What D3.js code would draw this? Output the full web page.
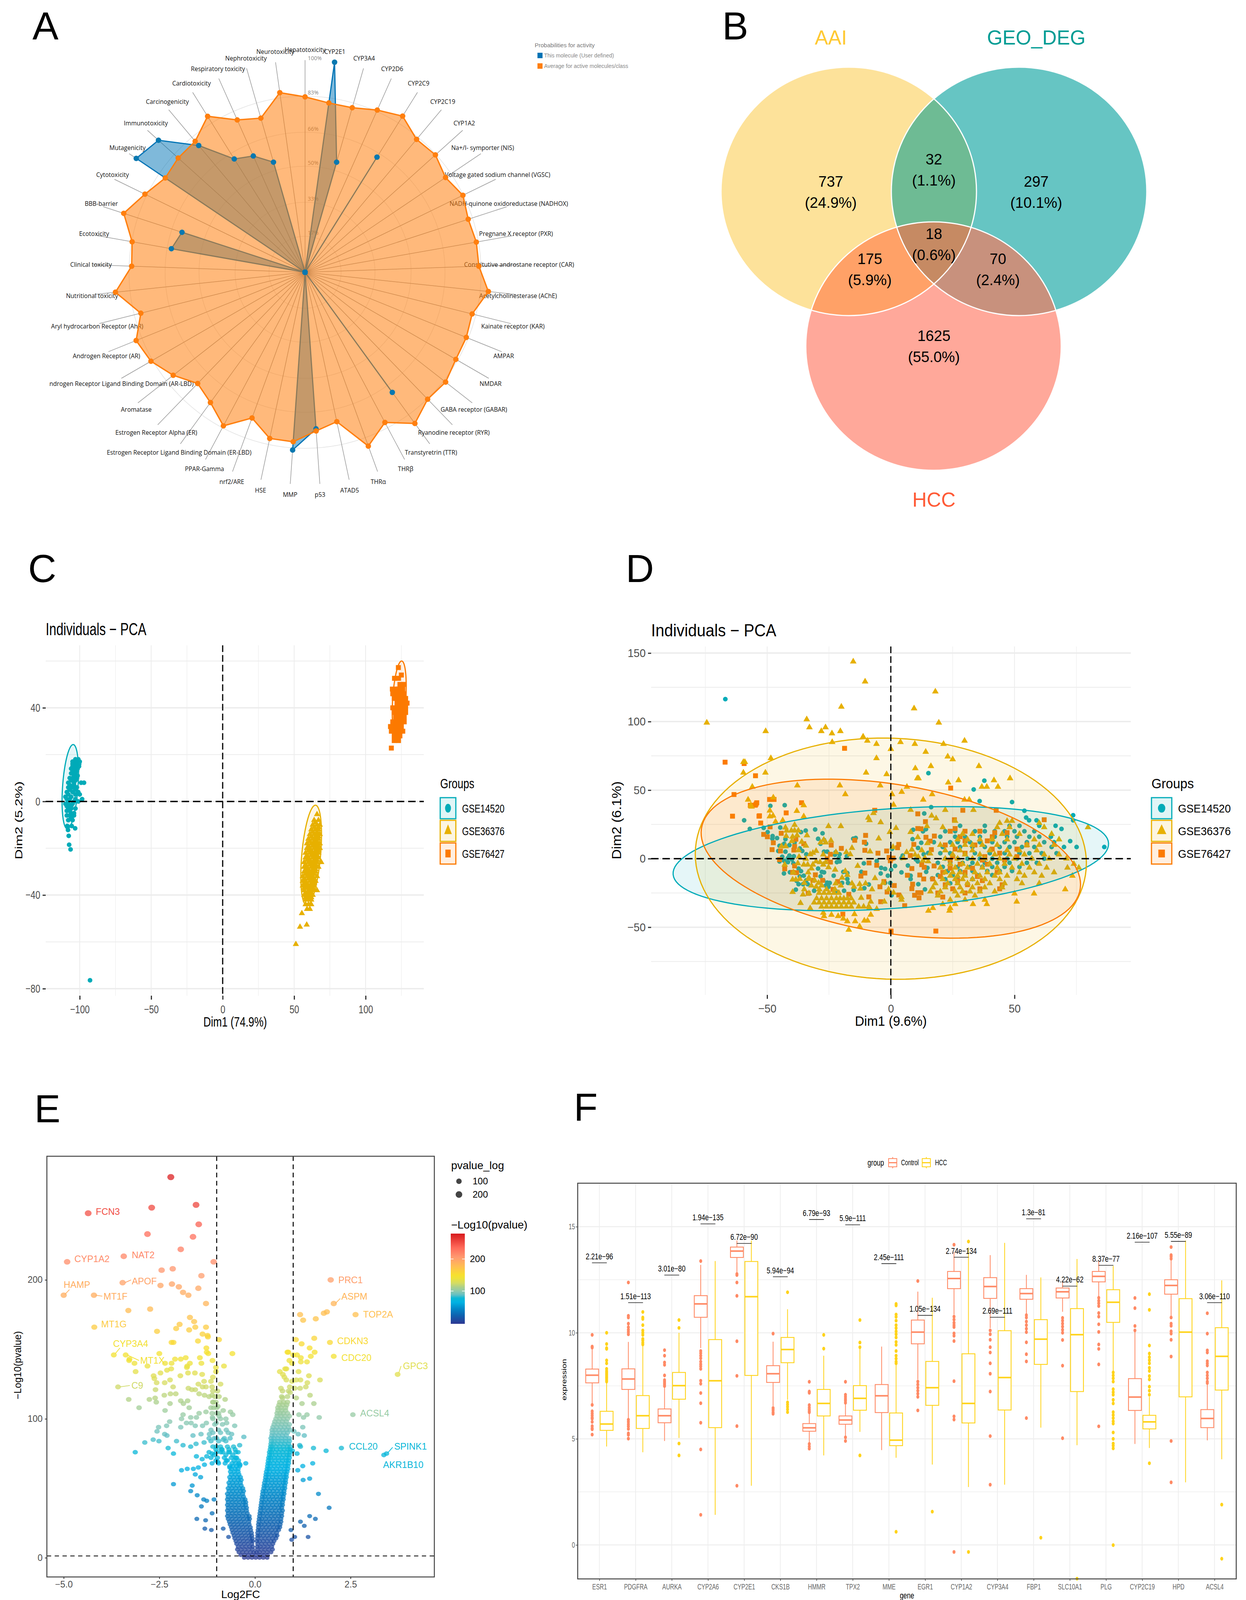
<!DOCTYPE html>
<html>
<head>
<meta charset="utf-8">
<script src="https://d3js.org/d3.v7.min.js"></script>
<style>
  body { margin: 0; background: #fff; }
  text { font-family: "Liberation Sans", Arial, sans-serif; }
  .radar text { font-family: "Open Sans", sans-serif; }
</style>
</head>
<body>
<svg id="fig" width="3190" height="4124"></svg>
<script>
// ---------- A: radar
const radarAxes = ["Hepatotoxicity","CYP2E1","CYP3A4","CYP2D6","CYP2C9","CYP2C19","CYP1A2","Na+/I- symporter (NIS)","Voltage gated sodium channel (VGSC)","NADH-quinone oxidoreductase (NADHOX)","Pregnane X receptor (PXR)","Constitutive androstane receptor (CAR)","Acetylcholinesterase (AChE)","Kainate receptor (KAR)","AMPAR","NMDAR","GABA receptor (GABAR)","Ryanodine receptor (RYR)","Transtyretrin (TTR)","THRβ","THRα","ATAD5","p53","MMP","HSE","nrf2/ARE","PPAR-Gamma","Estrogen Receptor Ligand Binding Domain (ER-LBD)","Estrogen Receptor Alpha (ER)","Aromatase","Androgen Receptor Ligand Binding Domain (AR-LBD)","Androgen Receptor (AR)","Aryl hydrocarbon Receptor (AhR)","Nutritional toxicity","Clinical toxicity","Ecotoxicity","BBB-barrier","Cytotoxicity","Mutagenicity","Immunotoxicity","Carcinogenicity","Cardiotoxicity","Respiratory toxicity","Nephrotoxicity","Neurotoxicity"];
const radarAverage = [82.7,80.6,80.7,83.7,86.8,81.8,82.7,79.9,82.8,80.9,82,82,86.9,81.2,82,82.1,84.1,83.2,88.1,80.2,87.2,72,75,80.1,80.1,73.1,82,75.9,72.9,78.9,83.9,85.9,79.8,89.9,81.8,82.8,89.9,84,79.5,80.5,80.6,86.7,78.6,75.6,85.5];
const radarMolecule = [0,100,54,0,64,0,0,0,0,0,0,0,0,0,0,0,0,0,70,0,0,0,74,84,0,0,0,0,0,0,0,0,0,0,0,64,61,0,96,93,78,63,60,54,0];
const radarRings = [17,33,50,66,83];
const radarTickLabels = ["17%","33%","50%","66%","83%","100%"];
const radarLegend = ["This molecule (User defined)","Average for active molecules/class"];

// ---------- B: venn
const vennCounts = ["737","32","297","18","175","70","1625"];
const vennShares = ["(24.9%)","(1.1%)","(10.1%)","(0.6%)","(5.9%)","(2.4%)","(55.0%)"];

// ---------- C: PCA, all three sets apart (rows are [Dim2, [Dim1...]])
const groupNames = ["GSE14520","GSE36376","GSE76427"];
const pcaCTeal = [[18,[-103,-101]],[17,[-105,-103,-101,-100]],[16,[-105,-104,-102,-100.4]],[15,[-105,-103,-100.5]],[14,[-106,-104,-101.5]],[13,[-105,-102]],[12,[-106,-103]],[11,[-104,-101.5]],[10,[-107,-105,-102]],[9,[-106,-103]],[8,[-108,-104,-99,-97]],[7,[-107,-104]],[6,[-108,-105,-102]],[5,[-107,-103]],[4,[-109,-105,-101]],[3,[-108,-103,-100]],[2,[-110,-106]],[1,[-109,-107,-103,-98.3]],[0,[-108,-104,-101]],[-1,[-110,-108,-105]],[-2,[-109,-106]],[-3,[-108,-106,-103]],[-4,[-109,-107]],[-5,[-106,-104]],[-6,[-109,-107,-104]],[-7,[-106]],[-8,[-108,-105]],[-10.5,[-108.7,-105.6]],[-11.5,[-103.2]],[-12.2,[-108.2]],[-14.7,[-107.7]],[-18.5,[-107.4]],[-20.5,[-106.4]],[-76.4,[-92.8]]];
const pcaCYellow = [[-5.5,[66]],[-8,[64,67]],[-9,[65]],[-10,[63,66,68]],[-11,[64,67]],[-12,[62,65,67]],[-13,[63,66]],[-14,[61,64,66,68]],[-15,[62,65,67]],[-16,[60,63,65,67]],[-17,[61,64,66]],[-18,[59,62,64,66,68]],[-19,[60,63,65,67]],[-20,[59,61,64,66,68]],[-21,[60,62,65,67]],[-22,[58,61,63,65,67]],[-23,[59,62,64,66]],[-24,[58,60,63,65,67]],[-25,[59,61,64,66]],[-26,[57,60,62,64,66,69]],[-27,[58,61,63,65]],[-28,[57,59,62,64,66,67]],[-29,[58,60,63,65]],[-30,[57,59,61,63,65]],[-31,[58,60,62,64]],[-32,[56,59,61,63,66]],[-33,[57,60,62,64]],[-34,[56,58,61,63,65]],[-35,[57,59,62,64]],[-36,[56,58,60,62,64]],[-37,[57,59,61,63]],[-38,[57,60,62,64,66]],[-39,[58,60,62]],[-40,[57,59,61,63]],[-41,[58,60,62]],[-42,[58,60,62]],[-44,[58,60,62]],[-46,[59,61]],[-47.8,[55.4]],[-52.7,[58.8]],[-53.6,[54.1]],[-61,[51.2]]];
const pcaCOrange = [[57.2,[122.9]],[54,[125]],[52.6,[120.2,123]],[50,[124,127]],[48,[118.7,121,123,126]],[46,[119,122,125,127]],[44,[120,123,126,128]],[42,[122,124,127,129]],[40,[119,122,125,128]],[38,[120,123,126,128]],[36,[121,124,127]],[34,[119,122,125,127]],[32,[117.4,120,123,125]],[30,[118,121,124,126]],[28,[120,122,124]],[26,[120,123]],[22.8,[118]]];
const pcaCEllipses = [[-106.6,6.3,5.4,18,2],[61.9,-23,6.6,21.4,3],[123.5,43.8,4.6,16.2,1.7]];

// ---------- D: PCA after correction, outer points as rows, the crowded middle as [Dim1, Dim2]
const pcaDTeal = [[116.4,[-66.9]],[62.4,[15.2]],[56.9,[37.8]],[50.5,[33.5]],[42,[35.9]],[41.3,[49]],[39,[-42.9]],[38.5,[-48.7]],[37.6,[16.3]],[35,[54]],[33,[13.5]],[31.7,[73.7]],[30,[54.7]],[28,[-59.3,55.9,58.9,73.7]],[24,[28,38,48,52,60,66.6]],[21.7,[-57,69]],[20,[22,26,30,34,38,42,46,50,54,58]],[16,[20,26,30,36,42,47,51,56,60,64.7]],[12.8,[72.5]],[12,[24,27,32,36,41,46,50,55,62,66]],[8.5,[21,28,33,38,44,48,53,58,65,70,75.1,86.3]],[4,[20,24,30,34,40,46,52,56,61,67]],[0,[22,27,31,36,41,47,51,57,62]],[-3,[19,24,29,33,38,43,48,55,59]],[-6,[21,27,32,37,41,46,52]],[-9,[23,28,33,39,44,49]],[-12,[19,25,30,35,41]],[-15,[22,27,33]],[-18,[24]]];
const pcaDTealMid = [[-51.4,22.5],[-44.7,22.7],[-49.8,19.4],[-47.8,16.5],[-46,15],[-47.9,14.6],[-42.6,14.2],[-34.4,20.5],[-36.3,19.4],[-30.6,21.3],[-27.6,18.5],[-29.4,14.5],[-28.4,10.9],[-27,13.7],[-15.2,14.6],[-14.2,15.1],[-10,10.9],[-45,9.4],[-43.1,10.9],[-41,9.9],[-45.5,5.6],[-42.6,5.1],[-38.9,11.8],[-36.8,7.5],[-35.8,5.6],[-34.2,3.2],[-27,5.1],[-25.7,5.1],[-22.3,4.7],[-20.7,3.2],[-17.8,1.8],[-21,0.4],[-20.7,-2],[-21.8,-2.5],[-22.6,2.8],[-43.9,1.4],[-41,2.3],[-39.2,1.8],[-41.6,0.4],[-40,-0.6],[-45,-2],[-43.1,-1.5],[-41.6,-2.5],[-39.4,-3.4],[-37.3,-7.2],[-36.3,-9.1],[-40.8,-9.9],[-43.2,-10.8],[-35.2,-12.4],[-36.8,-12.9],[-38.1,-16.2],[-37.3,-18.6],[-35.5,-18.6],[-34.2,-15.8],[-33.6,-18.6],[-29.4,-7.2],[-27.9,-9.6],[-27,-10],[-28.4,-12.9],[-27.3,-15.8],[-25.7,-17.5],[-24.7,-17.7],[-23.1,-12.4],[-25.2,-20.5],[-26.3,-19.6],[-22.1,-23.8],[-18.9,-23.4],[-19.2,-9.6],[-17.6,-10.5],[-17.6,-14.8],[-17.3,-17.7],[-19.7,-17.7],[-38.4,-22.6],[-31,-23.4],[-15,-22.9],[-10.7,-21.5],[-8.9,-18.8],[-11.9,-9.6],[-10.9,-3.4],[-5.7,-1.7],[-3.9,-6.7],[-2.3,-7.4],[-4.1,-10.8],[-1.2,-12.4],[0.1,-8.1],[1.7,-5.3],[4.3,-10],[6.9,-5],[-2.3,-17.7],[-0.2,-17.7],[0.3,-26.7],[0.5,7.2],[4.8,2.3],[4.3,0.4],[10.1,-0.5],[10.9,-2],[13.3,3.2],[15.1,4.2],[14.8,-6.7],[14.3,-9.6],[8,-12.4],[8,-14.8],[11.1,-18.6],[13.8,-22.4],[16.7,-14.3],[9,21.1],[13,19.9],[14.2,21.5],[8.8,14.2],[12.3,11.6],[11,7.8],[17.4,12]];
const pcaDYellow = [[143.8,[-15.2]],[129.2,[-10.4]],[121.9,[18]],[110.8,[-20]],[109.6,[9.4]],[101.6,[-34]],[99.2,[-74.4,19.4]],[95.8,[-32.9,-26.4]],[93,[-50.6,-28.1,-20.4]],[91.4,[-23.8]],[89,[-11.2]],[86,[-9.5,29.8]],[85,[-23.7,3.9]],[83.7,[-5.8,9.7,21.3]],[80,[0]],[77.9,[14.1]],[74.5,[23]],[73.3,[-48.5,-5.8]],[72.5,[25]],[70.5,[-59.6,-59]],[67.5,[16.2,35.6]],[65.9,[9.9]],[62.7,[-59.6,-50.7,-10]],[61.6,[-1.7]],[58.6,[10.7,11.2,48.2]],[57.2,[27.4,41.7]],[55.5,[23.2]],[53.4,[-37.8,-20.6,-4.3]],[52.4,[-56,36.8,38.8,43.3,6.5]],[48.7,[4.4]],[47,[0.5,16.7,-18.4]],[44.6,[-47.5]],[43,[-57.7,13.1,29.8,31.7]],[39,[-56.6]],[35.5,[22,33.4]],[27.5,[26,47,49]],[26,[44,60]],[22.9,[79.7,21,43,48,62]],[18,[29,33,45,52,65]],[14,[27,31,36,41,47,58,68]],[10,[20,25,30,33,37,43,55,60,66]],[6,[22,28,33,40,47,52,59]],[3,[25,30,36,42,48,54,62,68]],[0,[22,27,33,38,44,50,57,64,71]],[-3.8,[24,29,35,40,46,53,60,74]],[-6.6,[20,26,31,37,43,49,56,63,71.4,76]],[-10,[22,25,28,34,39,44,52,58,66]],[-12.5,[24,27,30,36,42,47,54,61,73.4]],[-15,[21,26,29,33,38,44,51]],[-18,[18,23,27,31,35,40,46,53,60]],[-21,[17,22,28,33,38,45]],[-22.4,[70.5]],[-24,[16,20,26,29,32,36,42]],[-25.5,[50,57.9]],[-27,[19,27,34]],[-30,[24,30,38]],[-31.4,[50.9]],[-33.2,[21,26,33.2,38.8]],[-36,[17,24]],[-38,[15.2,23.7]],[-29,[-30,-28,-26,-24,-22,-20.5,-19,-17.5,-16]],[-32,[-31,-29,-27,-25,-23,-21,-19,-17,-15]],[-35,[-28,-26,-24,-22,-20,-18,-16,-13,-11,-9]],[-25,[-29,-27,-25,-23,-21]]];
const pcaDYellowMid = [[-56.3,37.9],[-48.9,35],[-38,34.8],[-35.2,38.9],[-35.2,30.8],[-48.9,30.8],[-47.6,31.3],[-43.7,27.9],[-46.6,27],[-38.9,24.6],[-42.6,22.7],[-42.1,20.4],[-40.2,20.5],[-38.9,20.5],[-37.4,20.5],[-33.9,17],[-37.9,17],[-39.7,16],[-42.3,16.5],[-40,12.8],[-36,12.3],[-34.3,9.4],[-44.2,9],[-42.5,9],[-37.3,6.1],[-25.2,23.7],[-20.2,23.7],[-27.1,13.7],[-28.4,11.8],[-26.3,11.8],[-24.2,13.2],[-15.7,7.8],[-18,4.7],[-16.4,3.2],[-22.2,4.7],[-27.3,3],[-30.2,5.6],[-31.5,4.2],[-32.6,3.2],[-8.4,5.2],[-4.9,14.7],[-13.4,-5.3],[-4.1,26.5],[-9.1,29.9],[-8.6,28],[-7,33.2],[-0.4,19.4],[2.1,22.3],[0.9,8.5],[1.1,39.3],[8,35.6],[8,19.4],[10.9,15.6],[14.6,23.7],[16.5,31.3],[18.3,29.4],[14.8,11.3],[8.5,6.6],[12.5,6.1],[6.4,4.7],[9.8,2.8],[11.1,1.4],[15.9,3.7],[13.8,0.4],[13,-1.5],[15.1,-2],[5.1,0.4],[-42.9,-4.4],[-37.6,-3.4],[-34.4,-0.1],[-37.1,1.3],[-35.2,-4.4],[-33.6,-4.4],[-30.2,-2],[-28.6,-2.5],[-26.3,-2.5],[-31.5,-4.4],[-32.1,-7.2],[-27.3,-4.4],[-25.2,-6.3],[-22.5,-8.1],[-18.4,-9.1],[-17.6,-11.9],[-19.7,-13.9],[-33.4,-10],[-33.1,-13.9],[-39.4,-10],[-39.7,-15.3],[-38.4,-15.3],[-36.8,-14.8],[-35,-17.7],[-33.4,-14.8],[-30.8,-15.8],[-32.1,-19.6],[-29.2,-17.7],[-27.9,-19.6],[-30.2,-20.5],[-28.9,-22.4],[-26,-22.4],[-35,-22.4],[-33.1,-25.3],[-39.7,-24.3],[-35.5,-26.2],[-36.5,-32.4],[-32.6,-36.2],[-27.3,-39.5],[-22.3,-18.1],[-20.2,-19.6],[-22.6,-22.4],[-15.7,-18.1],[-14.9,-20.5],[-12.6,-18.6],[-12.3,-21.9],[-10.2,-18.1],[-7.6,-22.4],[-6.4,-14.3],[-3.1,-17.7],[-0.9,-22.4],[1.1,-24.8],[-12,-28.6],[-8.1,-31.4],[-2.6,-31.4],[4.3,-28.1],[4.3,-30],[-5.7,-36.7],[-8.6,-35.7],[-21.3,-41.9],[-19.2,-43.8],[-17.6,-45.7],[-14.4,-45.7],[-10.7,-45.2],[-9.4,-45.2],[-8.1,-40.9],[-14.7,-40.5],[-12.6,-49.5],[-17,-51.9],[-24,-41],[-27,-42]];
const pcaDOrange = [[80.5,[-18.7]],[70.4,[-67]],[69.4,[-59.3]],[60.5,[-54.7]],[51.5,[24.2]],[46.8,[-63.4]],[43.2,[-49,-47.2]],[40.8,[-36.1,-54.2]],[39,[-54.8,-56.7]],[35.3,[42.6,29.1,-6.5]],[31,[-64,-53.3]],[28.4,[25.7,62]],[22,[26]],[20,[24,30,36]],[19,[42,47]],[16,[28,41]],[13,[30,39]],[10,[22,34,55]],[7,[26,41,51]],[4,[30,44]],[1.5,[25,38,51]],[-1,[24,37,46]],[-4,[28,39]],[-7,[24,33]],[-10,[21,30,43]],[-13,[20,35]],[-16,[27,37]],[-19,[22,31,45]],[-22,[25,36,44]],[-25,[19,30]],[-28,[21]],[-52.8,[18.2]]];
const pcaDOrangeMid = [[-56.8,38.9],[-54.5,39.8],[-53.1,31.3],[-42.3,33.4],[-52.6,26],[-48.8,23.2],[-44.3,18.5],[-51.4,17.7],[-49.9,16],[-47.5,11.6],[-48,6.6],[-44.6,5.6],[-38.9,8.9],[-39.2,6.3],[-35.2,10.9],[-38.4,14.2],[-45,-0.7],[-42.9,-7.4],[-38.9,-5.3],[-39.7,-10],[-38.1,-10.2],[-30.5,-11.8],[-31.5,-15.8],[-27.6,-15.8],[-33.4,-25.3],[-24.1,9.9],[-20,7.5],[-24.4,3.2],[-24.4,-2.5],[-25.7,-0.1],[-14.6,13.4],[-10.2,17],[-10.7,12],[-10.5,6.1],[-5.2,4],[-1.7,5.6],[2.7,8],[3.2,10.4],[0.1,-0.1],[-0.7,0.9],[0.9,0.4],[-0.2,-1.5],[-8.8,-3.1],[-5.7,-4.8],[-10.5,-10.5],[-12.1,-12.7],[-21.5,-16.7],[-23.4,-22.4],[-17,-26],[-8.9,-27.9],[-4.1,-31.4],[-2.8,-16.7],[-4.4,-20.5],[1.4,-19.6],[-1.5,-24.3],[3.2,-26.5],[5.6,-34.3],[-19.4,-40.5],[0.1,-52.8],[10.9,32.7],[14,27],[10.9,22],[12.2,21.8],[14.2,15.6],[17.6,16.5],[9.3,10.4],[7.9,2.3],[15.9,12.8],[16.4,6.6],[12.5,-4.4],[13.5,-6.3],[8.5,-7.2],[6.7,-12.1],[11.7,-11.9],[8.8,-18.6],[8.5,-21.9],[10.9,-24.8],[12.2,-24.8],[11.4,-28.6],[9.6,-26.7],[17.5,-5.3],[16.9,-14.8],[13.3,-14.8]];
const pcaDEllipses = [[0,0,84.4,38,25],[0,0,79,88,-3],[0,0,72.5,58,-25]];

// ---------- E: volcano
const volcanoScatter = [[-2.2,274],[-2.7,252],[-1.54,254],[-4.36,248],[-1.47,240],[-2.81,233],[-1.62,231],[-1.94,222],[-3.43,217],[-4.91,213],[-1.08,213],[-2.15,208],[-2.44,207],[-1.4,203],[-3.46,198],[-2.47,196],[-2.17,197],[-1.99,195],[-1.48,194],[-1.88,191],[-1.74,189],[-4.21,189],[-5,189],[-1.28,183],[-3.31,178],[-2.74,179],[-1.7,173],[-1.59,170],[-1.97,168],[-1.56,166],[-1.28,166],[-2.06,165],[-1.72,164],[-4.2,166],[-2.56,163],[-1.37,161],[-1.24,160],[-1.23,159],[-1.49,156],[-2.18,155],[-2.13,155],[-0.94,157],[-0.59,147],[-1.27,151],[-1.26,148],[-1.22,147],[-2.5,147],[-3.38,146],[-3.69,146],[-3.15,140],[-3.29,142],[-3.28,143],[-2.81,138],[-2.35,140],[-2.18,140],[-2.09,143],[-1.94,143],[-1.81,144],[-1.7,140],[-1.44,144],[-1.77,138],[-1.78,137],[-1.4,140],[-1.11,142],[-1.02,137],[-0.81,138],[-1.02,134],[-2.19,136],[-2.3,135],[-2.47,133],[-2.65,131],[-3.12,134],[-1.75,133],[-1.57,133],[-1.38,132],[-1.1,130],[-1.95,131],[-2.22,128],[-2.57,126],[-2.63,129],[-2.36,126],[-1.15,127],[-1.33,127],[-1.48,125],[-0.9,125],[-3.58,123],[-2.14,123],[-1.74,122],[-1.65,121],[-1.56,121],[-1.37,123],[-1.28,123],[-1.12,123],[-1.46,118],[-1.32,117],[-1.12,117],[-2.6,121],[-2.21,118],[-2.07,118],[-2.37,117],[-2.61,115],[-2.76,114],[-3.3,114],[-1.94,113],[-1.76,113],[-1.09,112],[-0.94,116],[-0.78,114],[-3.03,108],[-2.58,112],[-2.35,106],[-2.22,111],[-1.87,111],[-1.72,108],[-1.46,104],[-1.28,105],[-1.08,108],[-0.97,109],[-0.83,106],[-0.64,105],[-0.58,103],[-1.88,103],[-1.92,100],[-1.68,101],[-1.53,101],[-1.11,101],[-0.94,102],[-0.76,100],[-1.79,97],[-1.67,97],[-1.56,95],[-1.37,95],[-1.01,97],[-0.74,97],[-0.53,95],[-2.52,94],[-2.31,95],[-2.23,98],[-2.56,91],[-1.94,94],[-1.27,97],[-2.36,89],[-2.3,88],[-2.66,85],[-2.51,84],[-2.88,83],[-2.05,84],[-1.62,88],[-1.41,89],[-1.19,89],[-1.06,86],[-0.83,85],[-0.61,89],[-0.29,87],[-1.88,81],[-3.13,76],[-2.27,79],[-2.13,75],[-1.68,80],[-1.54,82],[-1.33,83],[-1.01,80],[-0.88,78],[-0.4,81],[-0.89,76],[-1.53,73],[-1.26,73],[-1.12,75],[-0.69,76],[-0.44,76],[-0.51,72],[-0.24,68],[-1.38,71],[-1.32,67],[-0.97,69],[-0.75,70],[-0.66,65],[-1.48,65],[-1.61,64],[-1.77,64],[-1.92,63],[-0.39,67],[-2.13,53],[-1.56,60],[-1.42,58],[-1.64,52],[-1.68,48],[-1.51,45],[-1.34,42],[-1.26,41],[-1.07,42],[-1.4,37],[-1.52,28],[-1.31,21],[-1.14,20],[-1.29,27],[-1.12,32],[-0.83,21],[-0.69,15],[1.98,200],[2.06,183],[1.18,175],[1.26,171],[1.59,172],[1.8,176],[1.88,177],[2.63,175],[1.07,157],[1.22,154],[1.55,158],[1.96,155],[1.43,151],[1.56,148],[0.87,148],[0.85,148],[1,146],[1.1,146],[1.2,144],[1.46,145],[2.06,145],[1.36,141],[1.2,141],[0.9,142],[0.97,140],[0.82,136],[0.79,136],[1.14,134],[0.65,134],[0.73,132],[0.77,130],[1.41,131],[1.19,128],[1.37,126],[1.7,128],[0.82,128],[0.97,127],[1.08,128],[3.73,132],[0.68,122],[0.91,123],[1.04,122],[1.18,122],[1.33,123],[0.92,119],[1.08,115],[1.44,117],[0.72,115],[1.54,111],[1.23,111],[2.56,103],[1.15,103],[1.36,103],[1.68,101],[1.27,101],[1.25,94],[1.29,88],[1.13,89],[1.02,91],[1.53,79],[1.17,81],[1.86,77],[2.26,79],[3.44,75],[3.37,74],[1.19,80],[1.1,75],[0.98,77],[1.51,68],[1.25,66],[1.12,63],[1.43,57],[1.26,56],[1.66,46],[1.94,36],[1.43,30],[1.58,28],[1.19,26],[1.29,23],[1.39,15],[1.04,15],[0.94,20],[0.96,13]];
// the solid V, as rows of [-log10 p, [log2FC...]]
const volcanoRows = [[120,[-1.1,-0.98,0.72,0.88]],[116,[-1.2,-1.05,0.7,0.85]],[112,[-1.1,-1.02,0.65,0.75,0.85]],[110,[0.63,0.73,0.83]],[108,[-1.15,-1,0.6,0.68,0.8]],[106,[0.6,0.7,0.8]],[104,[-1.12,-1,-0.95,0.58,0.66,0.74,0.85]],[102,[0.58,0.68,0.78,0.9]],[100,[-1.1,-0.9,0.55,0.65,0.75,0.85]],[98,[0.52,0.62,0.72,0.82]],[96,[-1.05,-0.85,0.5,0.6,0.7,0.8,0.9]],[94,[0.47,0.57,0.67,0.77,0.87]],[92,[-1.15,-0.95,-0.75,0.45,0.53,0.63,0.73,0.83,0.92]],[90,[-1.1,-0.9,-0.7,0.45,0.55,0.65,0.75,0.85]],[88,[0.44,0.52,0.62,0.72,0.82]],[86,[-1.2,-1,-0.8,-0.65,0.42,0.5,0.6,0.7,0.8,0.9]],[84,[-1.15,-0.95,-0.76,0.43,0.5,0.6,0.7,0.8,0.9]],[82,[0.42,0.48,0.58,0.68,0.78,0.88]],[80,[-1.1,-0.9,-0.72,-0.56,0.41,0.45,0.55,0.65,0.75,0.85,0.92]],[78,[-1.02,-0.86,-0.68,-0.52,0.4,0.46,0.56,0.66,0.76,0.86,0.92]],[76,[-1.2,-1,-0.84,-0.66,-0.5,0.38,0.43,0.53,0.63,0.73,0.83,0.92]],[74,[-1.07,-0.76,-0.58,0.38,0.44,0.54,0.64,0.74,0.84,0.9]],[72,[-1.15,-0.98,-0.8,-0.62,-0.48,0.36,0.41,0.51,0.61,0.71,0.81,0.9]],[70,[-1.02,-0.72,-0.55,-0.43,0.35,0.42,0.52,0.62,0.72,0.82,0.88]],[68,[-1.12,-0.95,-0.78,-0.6,-0.5,-0.42,0.34,0.39,0.49,0.59,0.69,0.79,0.88]],[66,[-0.66,-0.58,-0.48,-0.4,0.33,0.4,0.5,0.6,0.7,0.8,0.86]],[64,[-0.62,-0.52,-0.44,0.32,0.37,0.47,0.57,0.67,0.77,0.86]],[62,[-0.64,-0.54,-0.44,0.3,0.38,0.48,0.58,0.68,0.78,0.84]],[60,[-0.62,-0.52,-0.42,0.29,0.35,0.45,0.55,0.65,0.75,0.82]],[58,[-0.66,-0.56,-0.46,-0.38,0.28,0.36,0.46,0.56,0.66,0.76,0.82]],[56,[-0.64,-0.54,-0.44,-0.36,0.27,0.33,0.43,0.53,0.63,0.73,0.8]],[54,[-0.68,-0.58,-0.48,-0.38,0.25,0.34,0.44,0.54,0.64,0.74,0.8]],[52,[-0.66,-0.56,-0.46,-0.36,0.24,0.3,0.4,0.5,0.6,0.7,0.78]],[50,[-0.7,-0.6,-0.5,-0.4,-0.32,0.23,0.32,0.42,0.52,0.62,0.72,0.78]],[48,[-0.68,-0.58,-0.48,-0.38,-0.3,0.21,0.28,0.38,0.48,0.58,0.68,0.76]],[46,[-0.72,-0.62,-0.52,-0.42,-0.32,0.2,0.3,0.4,0.5,0.6,0.7,0.76]],[44,[-0.7,-0.6,-0.5,-0.4,-0.3,0.19,0.26,0.36,0.46,0.56,0.66,0.74]],[42,[-0.72,-0.62,-0.52,-0.42,-0.32,-0.26,0.18,0.28,0.38,0.48,0.58,0.68,0.74]],[40,[-0.7,-0.6,-0.5,-0.4,-0.3,-0.24,0.17,0.24,0.34,0.44,0.54,0.64,0.72]],[38,[-0.72,-0.62,-0.52,-0.42,-0.32,-0.24,0.16,0.26,0.36,0.46,0.56,0.66,0.72]],[36,[-0.7,-0.6,-0.5,-0.4,-0.3,-0.22,0.15,0.22,0.32,0.42,0.52,0.62,0.7]],[34,[-0.72,-0.62,-0.52,-0.42,-0.32,-0.22,0.14,0.24,0.34,0.44,0.54,0.64,0.72]],[32,[-0.7,-0.6,-0.5,-0.4,-0.3,-0.2,0.13,0.2,0.3,0.4,0.5,0.6,0.7]],[30,[-0.72,-0.62,-0.52,-0.42,-0.32,-0.22,-0.15,0.12,0.22,0.32,0.42,0.52,0.62,0.7]],[28,[-0.7,-0.6,-0.5,-0.4,-0.3,-0.2,-0.14,0.11,0.18,0.28,0.38,0.48,0.58,0.68]],[26,[-0.67,-0.57,-0.47,-0.37,-0.27,-0.16,0.1,0.2,0.3,0.4,0.5,0.6,0.68]],[24,[-0.65,-0.55,-0.45,-0.35,-0.25,-0.15,0.09,0.16,0.26,0.36,0.46,0.56,0.66]],[22,[-0.62,-0.52,-0.42,-0.32,-0.22,-0.12,0.09,0.19,0.29,0.39,0.49,0.59,0.65]],[20,[-0.6,-0.5,-0.4,-0.3,-0.2,-0.11,0.08,0.14,0.24,0.34,0.44,0.54,0.62]],[18,[-0.58,-0.48,-0.38,-0.28,-0.18,-0.09,0.07,0.17,0.27,0.37,0.47,0.57]],[16,[-0.55,-0.45,-0.35,-0.25,-0.15,-0.08,0.07,0.12,0.22,0.32,0.42,0.52,0.58]],[14,[-0.53,-0.43,-0.33,-0.23,-0.13,-0.07,0.06,0.16,0.26,0.36,0.46,0.55]],[12,[-0.5,-0.4,-0.3,-0.2,-0.1,-0.06,0.05,0.12,0.22,0.32,0.42,0.5]],[10,[-0.48,-0.38,-0.28,-0.18,-0.08,0.07,0.17,0.27,0.37,0.47]],[8,[-0.44,-0.34,-0.24,-0.14,-0.06,0.06,0.14,0.24,0.34,0.44]],[6,[-0.46,-0.36,-0.26,-0.16,-0.06,0.06,0.16,0.26,0.36,0.46]],[4,[-0.42,-0.32,-0.22,-0.12,-0.03,0.04,0.12,0.22,0.32,0.42]],[2,[-0.37,-0.27,-0.17,-0.07,0.03,0.13,0.23,0.33]],[0,[-0.28,-0.18,-0.08,0.02,0.12,0.22,0.32]]];
const volcanoLabels = [["FCN3",-4.16,249,250],["CYP1A2",-4.72,215,213],["NAT2",-3.22,218,217],["HAMP",-5,196.5,189],["APOF",-3.22,199,198],["MT1F",-3.96,188,189],["MT1G",-4.02,168,166],["CYP3A4",-3.71,154,146],["MT1X",-3,142,146],["C9",-3.23,124,123],["PRC1",2.18,200,200],["ASPM",2.26,188,183],["TOP2A",2.83,175,175],["CDKN3",2.15,156,155],["CDC20",2.26,144,145],["GPC3",3.87,138,132],["ACSL4",2.75,104,103],["CCL20",2.46,80,79],["SPINK1",3.64,80,75],["AKR1B10",3.35,67,74]];
const volcanoLeaders = [[-4.85,193,-4.97,189.5,189],[-3.24,200,-3.4,198,198],[-3.99,188.3,-4.17,189,189],[-3.53,151,-3.65,147,146],[-3.03,142,-3.34,146,146],[-3.27,124,-3.53,123,123],[2.23,186.6,2.1,183,183],[3.82,138,3.76,133,132],[3.6,79.5,3.47,75.5,75]];

// ---------- F: boxplots, [lower whisker, q1, median, q3, upper whisker]
const genes = ["ESR1","PDGFRA","AURKA","CYP2A6","CYP2E1","CKS1B","HMMR","TPX2","MME","EGR1","CYP1A2","CYP3A4","FBP1","SLC10A1","PLG","CYP2C19","HPD","ACSL4"];
const boxesControl = [[6.6,7.64,8,8.29,9.28],[5.9,7.33,7.82,8.3,9.57],[4.9,5.76,6.09,6.41,7.41],[9.28,10.73,11.36,11.75,13.2],[12.83,13.55,13.85,14.04,14.35],[6.54,7.66,8.07,8.45,9.58],[4.83,5.36,5.52,5.72,6.62],[5.14,5.69,5.89,6.08,6.62],[4.47,6.24,7.03,7.56,9.35],[7.8,9.48,10.03,10.6,11.94],[10.86,12.08,12.56,12.89,13.81],[10.22,11.62,12.18,12.6,13.66],[10.9,11.58,11.85,12.08,12.73],[10.99,11.64,11.93,12.11,12.37],[11.72,12.4,12.66,12.89,13.38],[4.76,6.34,6.97,7.84,10.07],[10.79,11.82,12.23,12.5,13.45],[4.93,5.53,5.96,6.38,7.56]];
const boxesHcc = [[4.64,5.4,5.7,6.3,7.63],[4.37,5.49,6.09,7.04,9.43],[5.04,6.87,7.51,8.13,10],[1.42,5.53,7.74,9.68,13.38],[2.79,7.99,11.7,13.36,14.35],[6.84,8.59,9.21,9.78,11.11],[4.22,6.08,6.67,7.33,8.92],[5.33,6.35,6.91,7.51,9.28],[4.11,4.68,4.94,6.22,8.49],[3.79,6.58,7.41,8.65,11.65],[2.73,5.75,6.67,9.01,14.02],[2.84,6.36,7.89,10.1,14.24],[5.53,8.51,9.7,10.62,12.61],[4.7,7.23,9.91,11.14,13.48],[8.2,10.49,11.44,12.03,13.15],[4.57,5.47,5.8,6.11,6.98],[2.95,6.98,10.03,11.61,14.35],[4.04,7.3,8.89,10.24,12.47]];
const outliersControl = [[9.9,9.35,9.3,6.6,6.3,6.2,6.1,6,5.95,5.8,5.6,5.5,5.45,5.2],[12.37,10.8,10.72,10.43,10.26,10.14,10.04,9.93,5.9,5.8,5.69,5.59,5.47,5.26,5.19,5.01],[9.18,8.92,8.6,8.49,7.99,7.77,7.7,7.63,7.56,7.49],[13.38,9.14,9.04,8.92,8.8,8.64,8.52,8.42,8.3,7.74,7.6,7.16,6.68,5.76,4.5,1.42],[12.77,12.72,12.37,11.74,9.6,7.97,5.6,2.79],[9.96,6.45,6.36,6.25,6.18],[7.69,7.23,7.17,6.59,6.48,6.39,6.31,6.25,4.76,4.64,4.54],[7.69,7.08,6.98,6.88,6.8,6.7,5.07,4.9],[],[12.44,7.7,7.56,7.41,7.27,7.13,6.98,6.34],[14.15,10.76,10.62,10.47,10.36,10.27,9.97,9.86,9.61,7.72,6.06,5.91,-0.33],[10.11,9.93,9.67,9.32,9.07,8.56,8.07,7.23,5.13,2.84],[10.83,10.72,10.53,10.36,10.19,10.03,9.55,8.99,8.65,5.98],[10.7,10.57,10.43,10.29,10.14,10,9.66,8.45,5.03],[11.65,11.51,11.39,11.26,10.93,10.76,10.4,10.04,9.45,9.24,8.51,5.59],[11.64,11.16,10.32,10.11],[14.04,13.66,13.59,13.49,10.72,10.43,10.33,10.07,9.96,9.67,8.88,4.9,2.95],[10.92,9.96,9.17,9.07,8.66,8.56,8.46,8.13,7.99,7.85,7.7,7.63]];
const outliersHcc = [[10,9.47,9.28,9.24,8.7,8.56,8.3,8.2,8.13,8.06,7.99,7.92,7.85,7.77,7.7],[10.98,10.72,10.65,10.36,10.11,10,9.9,9.71,9.64,9.53,9.45],[10.6,10.23,4.78,4.22],[],[],[11.91,6.72,6.62,6.51,6.39,6.26],[9.9,9.25],[10.6,9.54,9.32,4.22],[11.36,11.29,10.86,10.75,10.57,10.36,10.22,10.07,9.93,9.78,9.57,9.43,9.14,8.92,8.78,8.64,8.56,0.62],[1.57],[14.3,-0.33],[],[0.34],[-1.59],[8.13,7.99,7.85,7.7,7.34,7.2,7.08,6.84,6.67,6.26,6.12,5.98,5.83,5.72,5.3,5,4.78,4.68,4.55,-0.01],[11.82,11.08,9.4,9.02,8.85,8.71,8.56,8.35,8.2,7.96,7.8,7.46,7.27,7.08,3.85],[],[1.9,-0.65]];
const pLabels = ["2.21e−96","1.51e−113","3.01e−80","1.94e−135","6.72e−90","5.94e−94","6.79e−93","5.9e−111","2.45e−111","1.05e−134","2.74e−134","2.69e−111","1.3e−81","4.22e−62","8.37e−77","2.16e−107","5.55e−89","3.06e−110"];
const pBars = [13.3,11.42,12.72,15.13,14.21,12.64,15.34,15.09,13.26,10.82,13.56,10.73,15.37,12.2,13.18,14.27,14.31,11.42];

const svg = d3.select("#fig");
const defs = svg.append("defs");

// text that may be squeezed sideways, the panels of the figure were not resized evenly
function label(g, x, y, str, o = {}) {
  return g.append("text")
    .attr("transform", `translate(${x},${y}) scale(${o.sx || 1},1) rotate(${o.rot || 0})`)
    .attr("text-anchor", o.anchor || "start")
    .attr("font-size", o.size || 20)
    .attr("fill", o.fill || "#000")
    .text(str);
}
const flatten = rows => rows.flatMap(([y, xs]) => xs.map(x => [x, y]));

[["A",83,101],["B",1849,101],["C",72,1490],["D",1602,1490],["E",88,2873],["F",1469,2869]]
  .forEach(d => label(svg, d[1], d[2], d[0], { size: 100 }));

// ---------- A
function drawRadar() {
  const g = svg.append("g").attr("class", "radar").attr("transform", "translate(781,697)");
  const r = d3.scaleLinear().domain([0, 100]).range([0, 543]);
  const angle = d3.scaleLinear().domain([0, radarAxes.length]).range([0, 2 * Math.PI]);
  const radial = d3.lineRadial().angle((d, i) => angle(i)).radius(d => r(d)).curve(d3.curveLinearClosed);

  g.selectAll(".ring").data(radarRings).enter().append("circle")
    .attr("r", d => r(d)).attr("fill", "none").attr("stroke", "#e3e3e3").attr("stroke-width", 1.5);
  g.selectAll(".spoke").data(radarAxes).enter().append("line")
    .attr("x2", (d, i) => d3.pointRadial(angle(i), r(100))[0])
    .attr("y2", (d, i) => d3.pointRadial(angle(i), r(100))[1])
    .attr("stroke", "#999").attr("stroke-width", 1.5);
  [...radarRings, 100].forEach((d, i) => {
    label(g, 7, -r(d) + (d === 100 ? 0 : -4), radarTickLabels[i], { size: 14, fill: "#888" });
  });

  defs.append("clipPath").attr("id", "radarClip").append("rect")
    .attr("x", 126 - 781).attr("y", -700).attr("width", 1500).attr("height", 1400);
  const labelG = g.append("g").attr("clip-path", "url(#radarClip)");
  radarAxes.forEach((name, i) => {
    const [px, py] = d3.pointRadial(angle(i), r(100));
    label(labelG, px * 1.01, py * 1.05 + 6, name, { size: 15.5, anchor: "middle", fill: "#111" });
  });

  g.append("path").attr("d", radial(radarMolecule))
    .attr("fill", "#0073B5").attr("fill-opacity", 0.5).attr("stroke", "#0073B5").attr("stroke-width", 3);
  g.append("path").attr("d", radial(radarAverage))
    .attr("fill", "#FF7F0E").attr("fill-opacity", 0.55).attr("stroke", "#FF7F0E").attr("stroke-width", 3.5);
  [[radarMolecule, "#0878B0"], [radarAverage, "#FF7F0E"]].forEach(([vals, col]) => {
    g.selectAll(null).data(vals).enter().append("circle")
      .attr("cx", (d, i) => d3.pointRadial(angle(i), r(d))[0])
      .attr("cy", (d, i) => d3.pointRadial(angle(i), r(d))[1])
      .attr("r", 7).attr("fill", col);
  });

  label(svg, 1369, 121, "Probabilities for activity", { size: 15, fill: "#777" });
  radarLegend.forEach((t, i) => {
    svg.append("rect").attr("x", 1376).attr("y", 135 + i * 27).attr("width", 13).attr("height", 14)
      .attr("fill", i ? "#FF7F0E" : "#0073B5");
    label(svg, 1393, 147 + i * 27, t, { size: 14, fill: "#888" });
  });
}

// ---------- B
function drawVenn() {
  const sets = [
    { id: "vA", cx: 2173, cy: 490, fill: "#FDE29A" },
    { id: "vG", cx: 2609, cy: 490, fill: "#66C5C3" },
    { id: "vH", cx: 2390, cy: 886, fill: "#FFA89A" }
  ];
  const g = svg.append("g");
  const ell = (sel, s) => sel.append("ellipse").attr("cx", s.cx).attr("cy", s.cy).attr("rx", 327).attr("ry", 318);
  sets.forEach(s => {
    ell(defs.append("clipPath").attr("id", s.id), s);
    ell(g, s).attr("fill", s.fill);
  });
  const overlap = (clips, s, col) => {
    let host = g;
    clips.forEach(c => { host = host.append("g").attr("clip-path", `url(#${c})`); });
    ell(host, s).attr("fill", col);
  };
  overlap(["vA"], sets[1], "#6EBB94");
  overlap(["vA"], sets[2], "#FFA167");
  overlap(["vG"], sets[2], "#C8917D");
  overlap(["vA", "vG"], sets[2], "#C68A63");
  sets.forEach(s => ell(g, s).attr("fill", "none").attr("stroke", "#fff").attr("stroke-width", 3));

  label(g, 2127, 114, "AAI", { size: 51, anchor: "middle", fill: "#FFC933" });
  label(g, 2653, 114, "GEO_DEG", { size: 51, anchor: "middle", fill: "#009C94" });
  label(g, 2391, 1297, "HCC", { size: 51, anchor: "middle", fill: "#FF5A36" });
  const spots = [[2127, 478], [2391, 421], [2653, 478], [2391, 612], [2227, 676], [2555, 676], [2391, 873]];
  spots.forEach((p, i) => {
    label(g, p[0], p[1], vennCounts[i], { size: 38, anchor: "middle" });
    label(g, p[0], p[1] + 54, vennShares[i], { size: 38, anchor: "middle" });
  });
}

// ---------- C and D share one layout
const groupColors = ["#00ABB8", "#E7B000", "#FC7A00"];
function ellipsePath(e, x, y) {
  const ts = d3.range(0, 2 * Math.PI, 0.05);
  return d3.line().x(t => x(e[0] + e[2] * Math.cos(t) + e[4] * Math.sin(t)))
    .y(t => y(e[1] + e[3] * Math.sin(t))).curve(d3.curveLinearClosed)(ts);
}
function drawPca(c) {
  const g = svg.append("g");
  const x = d3.scaleLinear().domain(c.xDomain).range([c.left, c.right]);
  const y = d3.scaleLinear().domain(c.yDomain).range([c.bottom, c.top]);
  const grid = (vals, horiz, w) => vals.forEach(v => g.append("line")
    .attr("x1", horiz ? c.left : x(v)).attr("x2", horiz ? c.right : x(v))
    .attr("y1", horiz ? y(v) : c.top).attr("y2", horiz ? y(v) : c.bottom)
    .attr("stroke", "#ececec").attr("stroke-width", w));
  grid(c.xMinor, false, 1.2); grid(c.yMinor, true, 2);
  grid(c.xTicks, false, 2); grid(c.yTicks, true, 3.5);

  const symbols = [d3.symbolCircle, d3.symbolTriangle, d3.symbolSquare];
  [0, 2, 1].forEach(i => {
    const sym = d3.symbol().type(symbols[i]).size(c.sizes[i]);
    g.selectAll(null).data(c.series[i]).enter().append("path").attr("d", sym)
      .attr("transform", d => `translate(${x(d[0])},${y(d[1])})`).attr("fill", groupColors[i]);
  });

  // the ellipses lie over the points, they tint them
  c.ellipses.forEach((e, i) => g.append("path").attr("d", ellipsePath(e, x, y))
    .attr("fill", groupColors[i]).attr("fill-opacity", 0.1));
  c.ellipses.forEach((e, i) => g.append("path").attr("d", ellipsePath(e, x, y))
    .attr("fill", "none").attr("stroke", groupColors[i]).attr("stroke-width", 3));

  g.append("line").attr("x1", c.left).attr("x2", c.right).attr("y1", y(0)).attr("y2", y(0))
    .attr("stroke", "#000").attr("stroke-width", 3.5).attr("stroke-dasharray", "19 10");
  g.append("line").attr("x1", x(0)).attr("x2", x(0)).attr("y1", c.top).attr("y2", c.bottom)
    .attr("stroke", "#000").attr("stroke-width", 3).attr("stroke-dasharray", "17 8");

  const gx = g.append("g").attr("transform", `translate(0,${c.bottom})`)
    .call(d3.axisBottom(x).tickValues(c.xTicks).tickSize(10).tickPadding(14));
  const gy = g.append("g").attr("transform", `translate(${c.left},0)`)
    .call(d3.axisLeft(y).tickValues(c.yTicks).tickSize(8));
  [gx, gy].forEach(a => {
    a.select(".domain").remove();
    a.selectAll("line").attr("stroke", "#333").attr("stroke-width", 3);
    a.selectAll("text").attr("font-size", 30).attr("fill", "#4d4d4d");
  });
  gx.selectAll("text").attr("transform", `scale(${c.sx},1)`);
  gy.selectAll("text").attr("x", -14 / c.sx).attr("transform", `scale(${c.sx},1)`);

  label(g, c.left, c.titleY, "Individuals − PCA", { size: 44, sx: c.sx });
  label(g, x(0) + c.xTitleDx, c.bottom + 79, c.xTitle, { size: 36, anchor: "middle", sx: c.sx });
  label(g, c.yTitleX, 2100, c.yTitle, { size: 36, anchor: "middle", rot: -90, sx: c.sx });

  label(g, c.keyX, 2018, "Groups", { size: 36, sx: c.sx });
  const keys = [2042, 2100, 2158];
  groupNames.forEach((name, i) => {
    g.append("rect").attr("x", c.keyX).attr("y", keys[i]).attr("width", c.keyW).attr("height", 54)
      .attr("fill", groupColors[i]).attr("fill-opacity", 0.12)
      .attr("stroke", groupColors[i]).attr("stroke-width", 3);
    g.append("path").attr("d", d3.symbol().type(symbols[i]).size(i === 1 ? 300 : 330))
      .attr("transform", `translate(${c.keyX + c.keyW / 2},${keys[i] + 27}) scale(${c.sx},1.1)`)
      .attr("fill", groupColors[i]);
    label(g, c.keyX + c.keyW + 16, keys[i] + 38, name, { size: 30, sx: c.sx });
  });
}

// ---------- E
function drawVolcano() {
  const g = svg.append("g");
  const L = 120, R = 1112, T = 2960, B = 4037;
  const x = d3.scaleLinear().domain([-5.44, 4.69]).range([L, R]);
  const y = d3.scaleLinear().domain([-13.8, 289]).range([B, T]);
  const size = d3.scaleLinear().domain([0, 280]).range([5.6, 8.5]);
  const color = d3.scaleLinear()
    .domain([0, 25, 45, 65, 78, 88, 100, 112, 125, 140, 150, 175, 205, 235, 279])
    .range(["#2B3A94", "#0E63B0", "#0288C8", "#00B2E3", "#0BB8D6", "#62BFC4", "#90C9AC", "#ABD08C", "#D5DC62", "#EEE23A", "#F7E02E", "#FFC050", "#FF9A70", "#FF6A5A", "#D7191C"]);
  const pts = [...volcanoScatter, ...flatten(volcanoRows)];

  g.selectAll(null).data(pts).enter().append("ellipse")
    .attr("cx", d => x(d[0])).attr("cy", d => y(d[1]))
    .attr("rx", d => size(d[1]) * 1.07).attr("ry", d => size(d[1]) * 0.93)
    .attr("fill", d => color(d[1])).attr("fill-opacity", 0.75);

  [-1, 1].forEach(v => g.append("line").attr("x1", x(v)).attr("x2", x(v)).attr("y1", T).attr("y2", B)
    .attr("stroke", "#000").attr("stroke-width", 2.5).attr("stroke-dasharray", "12 9"));
  g.append("line").attr("x1", L).attr("x2", R).attr("y1", y(1.3)).attr("y2", y(1.3))
    .attr("stroke", "#000").attr("stroke-width", 2).attr("stroke-dasharray", "11 9");

  volcanoLeaders.forEach(d => g.append("line")
    .attr("x1", x(d[0])).attr("y1", y(d[1])).attr("x2", x(d[2])).attr("y2", y(d[3]))
    .attr("stroke", color(d[4])).attr("stroke-width", 1.8));
  volcanoLabels.forEach(d => label(g, x(d[1]), y(d[2]) + 8, d[0], { size: 23.5, fill: color(d[3]) }));

  g.append("rect").attr("x", L).attr("y", T).attr("width", R - L).attr("height", B - T)
    .attr("fill", "none").attr("stroke", "#444").attr("stroke-width", 2.5);

  const gx = g.append("g").attr("transform", `translate(0,${B})`)
    .call(d3.axisBottom(x).tickValues([-5, -2.5, 0, 2.5]).tickFormat(d3.format(".1f")).tickSize(5).tickPadding(6));
  const gy = g.append("g").attr("transform", `translate(${L},0)`)
    .call(d3.axisLeft(y).tickValues([0, 100, 200]).tickSize(5).tickPadding(6));
  [gx, gy].forEach(a => {
    a.select(".domain").remove();
    a.selectAll("line").attr("stroke", "#333").attr("stroke-width", 2);
    a.selectAll("text").attr("font-size", 23).attr("fill", "#4d4d4d");
  });
  label(g, 616, 4091, "Log2FC", { size: 28, anchor: "middle" });
  label(g, 54, 3495, "−Log10(pvalue)", { size: 25, anchor: "middle", rot: -90 });

  label(g, 1155, 2993, "pvalue_log", { size: 28 });
  [[100, 7, 3024], [200, 8.5, 3058]].forEach(d => {
    g.append("circle").attr("cx", 1175).attr("cy", d[2]).attr("r", d[1]).attr("fill", "#444");
    label(g, 1210, d[2] + 8, d[0], { size: 23.5 });
  });
  label(g, 1155, 3145, "−Log10(pvalue)", { size: 28 });
  const bar = d3.scaleLinear().domain([-2, 279]).range([3389, 3158]);
  const grad = defs.append("linearGradient").attr("id", "volGrad")
    .attr("x1", 0).attr("x2", 0).attr("y1", 1).attr("y2", 0);
  color.domain().forEach(v => grad.append("stop").attr("offset", `${(v + 2) / 281 * 100}%`).attr("stop-color", color(v)));
  g.append("rect").attr("x", 1154).attr("y", 3158).attr("width", 36).attr("height", 231).attr("fill", "url(#volGrad)");
  [100, 200].forEach(v => {
    g.append("line").attr("x1", 1154).attr("x2", 1161).attr("y1", bar(v)).attr("y2", bar(v)).attr("stroke", "#fff").attr("stroke-width", 1.5);
    g.append("line").attr("x1", 1183).attr("x2", 1190).attr("y1", bar(v)).attr("y2", bar(v)).attr("stroke", "#fff").attr("stroke-width", 1.5);
    label(g, 1203, bar(v) + 8, v, { size: 23.5 });
  });
}

// ---------- F
function drawBoxes() {
  const g = svg.append("g");
  const L = 1479, R = 3165, T = 3029, B = 4042;
  const sx = 0.72;
  const x = d3.scalePoint().domain(genes).range([L, R]).padding(0.6);
  const y = d3.scaleLinear().domain([-1.6, 17.05]).range([B, T]);
  const colors = ["#FF8A65", "#FFD31A"];

  [0, 2.5, 5, 7.5, 10, 12.5, 15].forEach(v => g.append("line").attr("x1", L).attr("x2", R)
    .attr("y1", y(v)).attr("y2", y(v)).attr("stroke", "#eeeeee").attr("stroke-width", v % 5 ? 1.5 : 2.5));
  genes.forEach(name => g.append("line").attr("x1", x(name)).attr("x2", x(name)).attr("y1", T).attr("y2", B)
    .attr("stroke", "#eeeeee").attr("stroke-width", 2));

  [[boxesControl, outliersControl, -18.5], [boxesHcc, outliersHcc, 18.5]].forEach(([boxes, outs, dx], s) => {
    genes.forEach((name, i) => {
      const cx = x(name) + dx, b = boxes[i];
      g.append("line").attr("x1", cx).attr("x2", cx).attr("y1", y(b[0])).attr("y2", y(b[4]))
        .attr("stroke", colors[s]).attr("stroke-width", 2);
      g.append("rect").attr("x", cx - 16.5).attr("width", 33).attr("y", y(b[3])).attr("height", y(b[1]) - y(b[3]))
        .attr("fill", "#fff").attr("stroke", colors[s]).attr("stroke-width", 2.2);
      g.append("line").attr("x1", cx - 16.5).attr("x2", cx + 16.5).attr("y1", y(b[2])).attr("y2", y(b[2]))
        .attr("stroke", colors[s]).attr("stroke-width", 4);
      g.selectAll(null).data(outs[i]).enter().append("ellipse")
        .attr("cx", cx).attr("cy", d => y(d)).attr("rx", 3.8).attr("ry", 4.8).attr("fill", colors[s]);
    });
  });

  genes.forEach((name, i) => {
    g.append("line").attr("x1", x(name) - 19).attr("x2", x(name) + 19).attr("y1", y(pBars[i])).attr("y2", y(pBars[i]))
      .attr("stroke", "#222").attr("stroke-width", 1.6);
    label(g, x(name), y(pBars[i]) - 9, pLabels[i], { size: 22, anchor: "middle", sx: 0.76 });
  });

  g.append("rect").attr("x", L).attr("y", T).attr("width", R - L).attr("height", B - T)
    .attr("fill", "none").attr("stroke", "#444").attr("stroke-width", 2.5);

  const gx = g.append("g").attr("transform", `translate(0,${B})`).call(d3.axisBottom(x).tickSize(5).tickPadding(8));
  const gy = g.append("g").attr("transform", `translate(${L},0)`).call(d3.axisLeft(y).tickValues([0, 5, 10, 15]).tickSize(5));
  [gx, gy].forEach(a => {
    a.select(".domain").remove();
    a.selectAll("line").attr("stroke", "#444").attr("stroke-width", 1.5);
    a.selectAll("text").attr("font-size", 20).attr("fill", "#666").attr("transform", `scale(${sx},1)`);
  });
  gy.selectAll("text").attr("x", -7 / sx);

  label(g, 2322, 4092, "gene", { size: 22, anchor: "middle", sx: 0.75 });
  label(g, 1450, 3532, "expression", { size: 22, anchor: "middle", rot: -90, sx: 0.75 });

  label(g, 2221, 2984, "group", { size: 22, sx: 0.75 });
  [[2275, "Control", 2307], [2361, "HCC", 2394]].forEach((d, i) => {
    g.append("line").attr("x1", d[0] + 10.5).attr("x2", d[0] + 10.5).attr("y1", 2962).attr("y2", 2991)
      .attr("stroke", colors[i]).attr("stroke-width", 2);
    g.append("rect").attr("x", d[0]).attr("y", 2966).attr("width", 21).attr("height", 21)
      .attr("fill", "#fff").attr("stroke", colors[i]).attr("stroke-width", 2);
    g.append("line").attr("x1", d[0]).attr("x2", d[0] + 21).attr("y1", 2976.5).attr("y2", 2976.5)
      .attr("stroke", colors[i]).attr("stroke-width", 3);
    label(g, d[2], 2983, d[1], { size: 20, sx: 0.7 });
  });
}

drawRadar();
drawVenn();
drawPca({
  left: 117, right: 1085, top: 1652, bottom: 2549, sx: 0.74,
  xDomain: [-123.8, 140.7], yDomain: [-83, 66.7],
  xTicks: [-100, -50, 0, 50, 100], xMinor: [-75, -25, 25, 75, 125],
  yTicks: [-80, -40, 0, 40], yMinor: [-60, -20, 20, 60],
  ellipses: pcaCEllipses, series: [flatten(pcaCTeal), flatten(pcaCYellow), flatten(pcaCOrange)], sizes: [113, 110, 160],
  titleY: 1626, xTitle: "Dim1 (74.9%)", xTitleDx: 32, yTitle: "Dim2 (5.2%)", yTitleX: 57, keyX: 1127, keyW: 40
});
drawPca({
  left: 1667, right: 2895, top: 1655, bottom: 2547, sx: 0.92,
  xDomain: [-96.9, 97], yDomain: [-99.4, 154.8],
  xTicks: [-50, 0, 50], xMinor: [-75, -25, 25, 75],
  yTicks: [-50, 0, 50, 100, 150], yMinor: [-75, -25, 25, 75, 125],
  ellipses: pcaDEllipses,
  series: [[...flatten(pcaDTeal), ...pcaDTealMid], [...flatten(pcaDYellow), ...pcaDYellowMid], [...flatten(pcaDOrange), ...pcaDOrangeMid]],
  sizes: [113, 125, 156],
  titleY: 1629, xTitle: "Dim1 (9.6%)", xTitleDx: 0, yTitle: "Dim2 (6.1%)", yTitleX: 1590, keyX: 2948, keyW: 52
});
drawVolcano();
drawBoxes();
</script>
</body>
</html>
